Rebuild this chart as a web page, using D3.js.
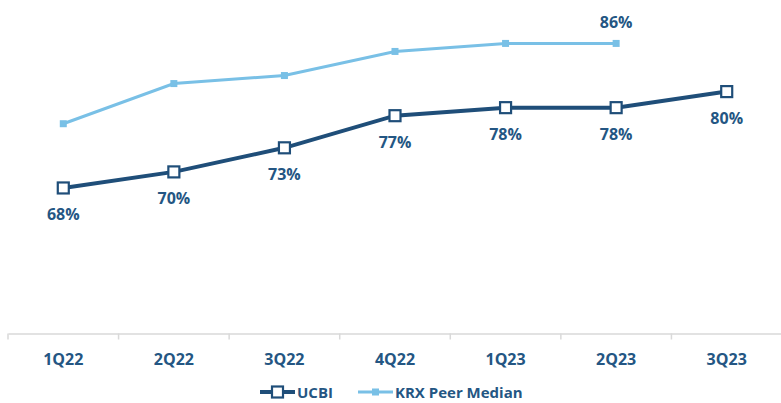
<!DOCTYPE html>
<html>
<head>
<meta charset="utf-8">
<script src="https://cdn.jsdelivr.net/npm/d3@7"></script>
<style>
  html, body { margin: 0; padding: 0; background: #ffffff; }
  svg { display: block; }
  text { font-family: "Open Sans", "Liberation Sans", sans-serif; font-weight: 700; }
</style>
</head>
<body>
<svg id="chart" width="781" height="403"></svg>
<script>
const categories = ["1Q22", "2Q22", "3Q22", "4Q22", "1Q23", "2Q23", "3Q23"];
const ucbiValues = [68, 70, 73, 77, 78, 78, 80];
const krxCategories = ["1Q22", "2Q22", "3Q22", "4Q22", "1Q23", "2Q23"];
const krxValues = [76, 81, 82, 85, 86, 86];
const seriesNames = ["UCBI", "KRX Peer Median"];

const darkBlue = "#1f4e79";
const textColor = "#245683";
const lightBlue = "#79c0e6";

const svg = d3.select("#chart");

const x = d3.scaleBand().domain(categories).range([8, 782]).paddingInner(0).paddingOuter(0);
const y = d3.scaleLinear().domain([50, 90]).range([332.5, 11.3]);
const cx = c => x(c) + x.bandwidth() / 2;
const axisY = 333.5;

// X axis
const axis = d3.axisBottom(x).tickSize(0).tickPadding(0);
const gx = svg.append("g").attr("transform", `translate(0,${axisY})`).call(axis);
gx.select(".domain").attr("stroke", "#d9d9d9").attr("stroke-width", 1.5);
gx.selectAll(".tick text")
  .attr("fill", textColor)
  .attr("font-size", 16)
  .attr("dy", null)
  .attr("y", 31);
const bounds = categories.map(c => x(c));
gx.selectAll("line.bound").data(bounds).enter().append("line")
  .attr("class", "bound")
  .attr("x1", d => d).attr("x2", d => d)
  .attr("y1", 0).attr("y2", 6)
  .attr("stroke", "#d9d9d9").attr("stroke-width", 1.5);

// KRX line
const krxData = krxCategories.map((c, i) => ({ c, v: krxValues[i] }));
const line = d3.line().x(d => cx(d.c)).y(d => y(d.v));
svg.append("path").datum(krxData)
  .attr("d", line)
  .attr("fill", "none")
  .attr("stroke", lightBlue)
  .attr("stroke-width", 3);
svg.selectAll("rect.krx").data(krxData).enter().append("rect")
  .attr("class", "krx")
  .attr("x", d => cx(d.c) - 3.5).attr("y", d => y(d.v) - 3.5)
  .attr("width", 7).attr("height", 7)
  .attr("fill", lightBlue);
const lastK = krxData[krxData.length - 1];
svg.append("text")
  .attr("x", cx(lastK.c)).attr("y", y(lastK.v) - 21)
  .attr("text-anchor", "middle").attr("dominant-baseline", "central")
  .attr("fill", textColor).attr("font-size", 16)
  .text(lastK.v + "%");

// UCBI line
const ucbiData = categories.map((c, i) => ({ c, v: ucbiValues[i] }));
svg.append("path").datum(ucbiData)
  .attr("d", line)
  .attr("fill", "none")
  .attr("stroke", darkBlue)
  .attr("stroke-width", 4);
svg.selectAll("rect.ucbi").data(ucbiData).enter().append("rect")
  .attr("class", "ucbi")
  .attr("x", d => cx(d.c) - 5.5).attr("y", d => y(d.v) - 5.5)
  .attr("width", 11).attr("height", 11)
  .attr("fill", "#ffffff")
  .attr("stroke", darkBlue).attr("stroke-width", 2.2);
svg.selectAll("text.ucbiLabel").data(ucbiData).enter().append("text")
  .attr("class", "ucbiLabel")
  .attr("x", d => cx(d.c)).attr("y", d => y(d.v) + 26.5)
  .attr("text-anchor", "middle").attr("dominant-baseline", "central")
  .attr("fill", textColor).attr("font-size", 16)
  .text(d => d.v + "%");

// Legend
const leg = svg.append("g").attr("transform", "translate(0,392)");
leg.append("line").attr("x1", 260).attr("x2", 295).attr("y1", 0).attr("y2", 0)
  .attr("stroke", darkBlue).attr("stroke-width", 4);
leg.append("rect").attr("x", 272).attr("y", -5.5).attr("width", 11).attr("height", 11)
  .attr("fill", "#fff").attr("stroke", darkBlue).attr("stroke-width", 2.2);
leg.append("text").attr("x", 297).attr("y", 0).attr("dominant-baseline", "central")
  .attr("fill", textColor).attr("font-size", 15).text(seriesNames[0]);
leg.append("line").attr("x1", 358).attr("x2", 393).attr("y1", 0).attr("y2", 0)
  .attr("stroke", lightBlue).attr("stroke-width", 3);
leg.append("rect").attr("x", 372).attr("y", -3.5).attr("width", 7).attr("height", 7)
  .attr("fill", lightBlue);
leg.append("text").attr("x", 395).attr("y", 0).attr("dominant-baseline", "central")
  .attr("fill", textColor).attr("font-size", 15).text(seriesNames[1]);
</script>
</body>
</html>
